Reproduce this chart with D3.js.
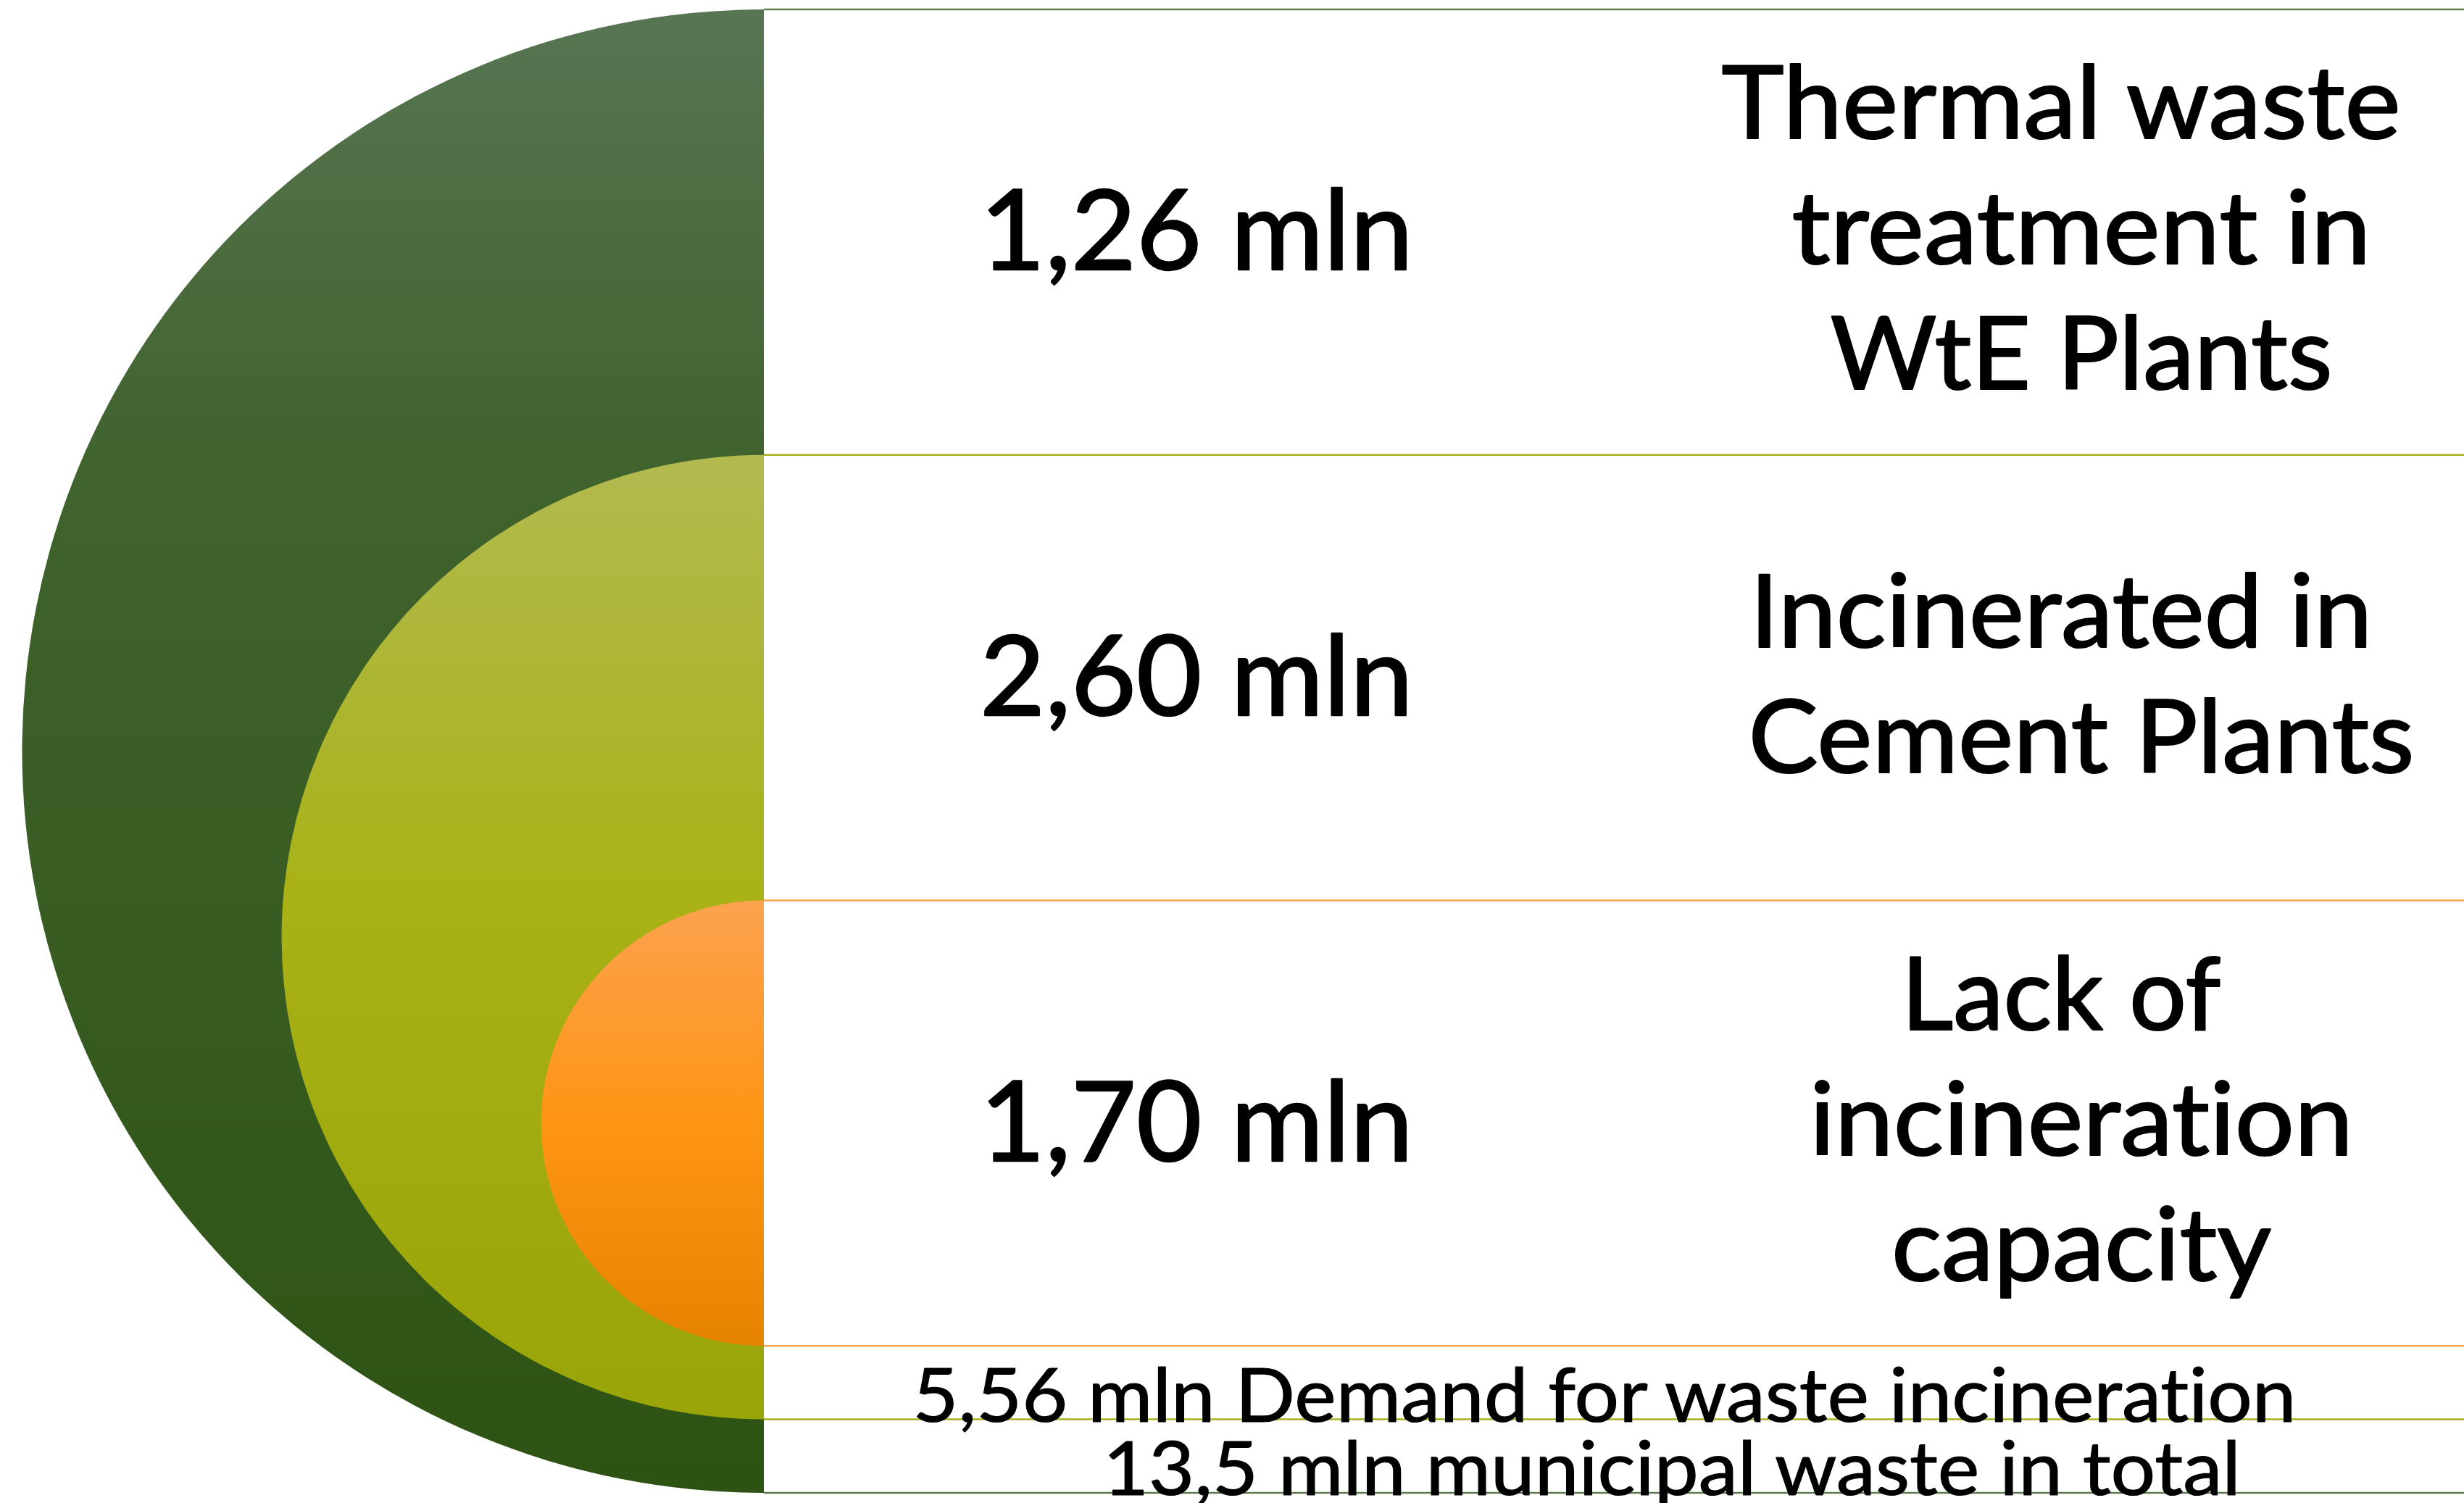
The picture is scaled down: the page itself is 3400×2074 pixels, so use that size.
<!DOCTYPE html>
<html>
<head>
<meta charset="utf-8">
<script src="https://cdn.jsdelivr.net/npm/d3@7"></script>
<style>
  html, body { margin: 0; padding: 0; background: #ffffff; }
  svg { display: block; }
  text {
    font-family: "Lato", "Open Sans", sans-serif; fill: #000;
    font-variant-ligatures: none; font-feature-settings: "liga" 0, "clig" 0;
    stroke: #000; stroke-linejoin: round;
  }
</style>
</head>
<body>
<svg id="chart" width="3400" height="2074"></svg>
<script>
// ---------------- DATA ----------------
const rings = ["Municipal waste in total", "Demand for waste incineration", "Lack of incineration capacity"];
const rowValues = [1.26, 2.60, 1.70];
const rowValueLabels = ["1,26 mln", "2,60 mln", "1,70 mln"];
const rowLabelLines = [
  ["Thermal waste ", "treatment in", "WtE Plants"],
  ["Incinerated in ", "Cement Plants"],
  ["Lack of ", "incineration", "capacity"]
];
const footerValues = [5.56, 13.5];
const footerLabels = ["5,56 mln Demand for waste incineration", "13,5 mln municipal waste in total"];

// ---------------- STYLE / LAYOUT ----------------
const W = 3400, H = 2074;
const edgeX = 1054;               // flat side of the half discs / left of text area
const footerUnit = 0.165;         // footer band height relative to a row
const ringGradients = [
  [[0, "#587553"], [0.3, "#41632e"], [1, "#2d5313"]],
  [[0, "#b2ba50"], [0.46, "#a8b216"], [1, "#99a409"]],
  [[0, "#fca24f"], [0.5, "#ff9514"], [1, "#e68300"]]
];
const ringLineColors = ["#5f7b52", "#a9b21c", "#f8a54a"];
const valueFont = 153, labelFont = 140, footerFont = 103;
const valueStroke = 2.4, labelStroke = 2.2, footerStroke = 1.2;
const labelLineGap = 173;
const valueCenterX = 1651, labelCenterX = 2872, trailingShift = -28;
const footerCenterX = [2214, 2307];
const valueInk = [598, 598, 598];
const labelInk = [[937, 799, 693], [859, 919], [441, 750, 524]];
const footerInk = [1909, 1570];

const svg = d3.select("#chart");
const defs = svg.append("defs");

// vertical layout: 3 rows + 2 footer bands
const y = d3.scaleLinear().domain([0, 3 + 2 * footerUnit]).range([13, 2060]);

ringGradients.forEach((stops, i) => {
  const g = defs.append("linearGradient")
    .attr("id", "grad" + i).attr("x1", 0).attr("y1", 0).attr("x2", 0).attr("y2", 1);
  stops.forEach(s => g.append("stop").attr("offset", s[0]).attr("stop-color", s[1]));
});

const ringGeom = rings.map((name, k) => {
  const top = y(k);
  const bottom = y(3 + (2 - k) * footerUnit);
  return { name, k, top, bottom, r: (bottom - top) / 2, cy: (top + bottom) / 2 };
});

const arc = d3.arc();
svg.append("g").selectAll("path").data(ringGeom).join("path")
  .attr("transform", d => `translate(${edgeX},${d.cy})`)
  .attr("d", d => arc({ innerRadius: 0, outerRadius: d.r, startAngle: Math.PI, endAngle: 2 * Math.PI }))
  .attr("fill", d => `url(#grad${d.k})`);

// white text area
svg.append("rect").attr("x", edgeX).attr("y", y(0)).attr("width", W - edgeX)
  .attr("height", y(3 + 2 * footerUnit) - y(0)).attr("fill", "#ffffff");

// separator lines (top and bottom of each ring)
const lines = [];
ringGeom.forEach(d => { lines.push({ y: d.top, c: ringLineColors[d.k] }); lines.push({ y: d.bottom, c: ringLineColors[d.k] }); });
svg.append("g").selectAll("line").data(lines).join("line")
  .attr("x1", edgeX).attr("x2", W)
  .attr("y1", d => d.y).attr("y2", d => d.y)
  .attr("stroke", d => d.c).attr("stroke-width", 2.5);

// row values
const rowMid = i => (y(i) + y(i + 1)) / 2;
svg.append("g").selectAll("text").data(rowValues).join("text")
  .attr("x", valueCenterX)
  .attr("y", (d, i) => rowMid(i) + 52)
  .attr("text-anchor", "middle")
  .attr("font-size", valueFont)
  .attr("stroke-width", valueStroke)
  .attr("textLength", (d, i) => valueInk[i])
  .attr("lengthAdjust", "spacingAndGlyphs")
  .text((d, i) => rowValueLabels[i]);

// row labels
const labelG = svg.append("g");
rowLabelLines.forEach((lns, i) => {
  const n = lns.length;
  lns.forEach((t, j) => {
    const trimmed = t.replace(/\s+$/, "");
    labelG.append("text")
      .attr("x", labelCenterX + (trimmed !== t ? trailingShift : 0))
      .attr("y", rowMid(i) + (j - (n - 1) / 2) * labelLineGap + 44)
      .attr("text-anchor", "middle")
      .attr("font-size", labelFont)
      .attr("stroke-width", labelStroke)
      .attr("textLength", labelInk[i][j])
      .attr("lengthAdjust", "spacingAndGlyphs")
      .text(trimmed);
  });
});

// footer labels
svg.append("g").selectAll("text").data(footerValues).join("text")
  .attr("x", (d, i) => footerCenterX[i])
  .attr("y", (d, i) => (y(3 + i * footerUnit) + y(3 + (i + 1) * footerUnit)) / 2 + 54)
  .attr("text-anchor", "middle")
  .attr("font-size", footerFont)
  .attr("stroke-width", footerStroke)
  .attr("textLength", (d, i) => footerInk[i])
  .attr("lengthAdjust", "spacingAndGlyphs")
  .text((d, i) => footerLabels[i]);
</script>
</body>
</html>
